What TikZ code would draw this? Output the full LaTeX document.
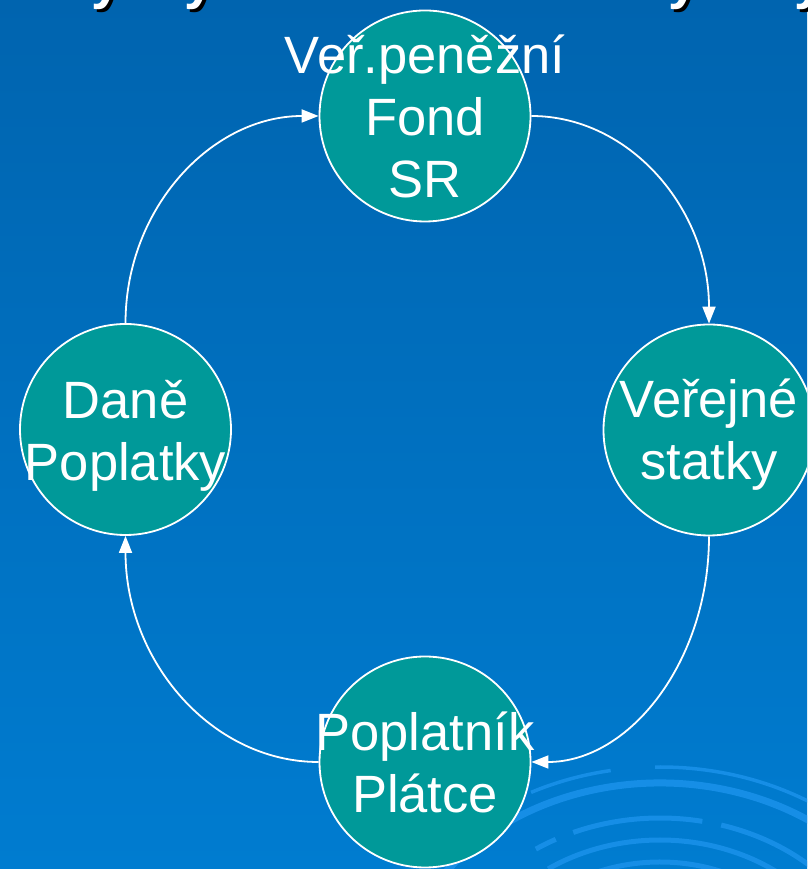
\documentclass[tikz,border=0pt]{standalone}
\usepackage{fontspec}
\setmainfont{Liberation Sans}
\usetikzlibrary{arrows.meta}
\definecolor{bgtop}{RGB}{0,100,175}
\definecolor{bgbot}{RGB}{0,124,208}
\definecolor{tealc}{RGB}{0,153,153}
\definecolor{swirlc}{RGB}{22,142,230}
\begin{document}
\begin{tikzpicture}[x=1pt,y=1pt,
  bubble/.style={circle,draw=white,line width=1.8pt,fill=tealc,minimum size=211pt,inner sep=0pt},
  btext/.style={text=white,font=\fontsize{52.5}{62}\selectfont,align=center,inner sep=0pt},
  flow/.style={draw=white,line width=1.8pt,-{Triangle[length=17pt,width=13pt]}},
  swirlline/.style={draw=swirlc,line cap=butt},
  frag/.style={font=\bfseries\fontsize{54}{60}\selectfont,inner sep=0pt,anchor=base}
]
\useasboundingbox (0,0) rectangle (807,869);
\clip (0,0) rectangle (807,869);
\shade[top color=bgtop,bottom color=bgbot] (0,0) rectangle (807,869);
% swirl decoration
\coordinate (sc) at (660,-131);
\draw[swirlline,line width=3.5pt] (sc) ++(20:284 and 233) arc[start angle=20,end angle=91,x radius=284,y radius=233];
\draw[swirlline,line width=3.5pt] (sc) ++(100:284 and 233) arc[start angle=100,end angle=117,x radius=284,y radius=233];
\draw[swirlline,line width=7pt] (sc) ++(20:265 and 217) arc[start angle=20,end angle=160,x radius=265,y radius=217];
\draw[swirlline,line width=5pt] (sc) ++(30:222 and 182) arc[start angle=30,end angle=74,x radius=222,y radius=182];
\draw[swirlline,line width=5pt] (sc) ++(79:222 and 182) arc[start angle=79,end angle=113,x radius=222,y radius=182];
\draw[swirlline,line width=5pt] (sc) ++(118:222 and 182) arc[start angle=118,end angle=124,x radius=222,y radius=182];
\draw[swirlline,line width=5pt] (sc) ++(30:195 and 160) arc[start angle=30,end angle=125,x radius=195,y radius=160];
\draw[swirlline,line width=5pt] (sc) ++(40:168 and 138) arc[start angle=40,end angle=115,x radius=168,y radius=138];
% fragments of the cut-off title
\foreach \i/\x in {1/107,2/200,3/684,4/810}{
  \node[frag,text=black] (s\i) at (\x+3,867) {y};
  \node[frag,text=white] (f\i) at (\x,870) {y};
}
% circles
\node[bubble] (T) at (425,753) {};
\node[bubble] (L) at (125.5,439.5) {};
\node[bubble] (R) at (709,439) {};
\node[bubble] (B) at (425,107) {};
% texts
\node[btext] (Tt) at (T.center) {Veř.peněžní\\Fond\\SR};
\node[btext,yshift=-6pt] (Lt) at (L.center) {Daně\\Poplatky};
\node[btext,yshift=-4.5pt] (Rt) at (R.center) {Veřejné\\statky};
\node[btext] (Bt) at (B.center) {Poplatník\\Plátce};
% connectors
\draw[flow] (L.north) .. controls +(0,115) and +(-107,0) .. (T.west);
\draw[flow] (T.east) .. controls +(98,0) and +(0,115) .. (R.north);
\draw[flow] (R.south) .. controls +(0,-125) and +(98,0) .. (B.east);
\draw[flow] (B.west) .. controls +(-107,0) and +(0,-125) .. (L.south);
\end{tikzpicture}
\end{document}
